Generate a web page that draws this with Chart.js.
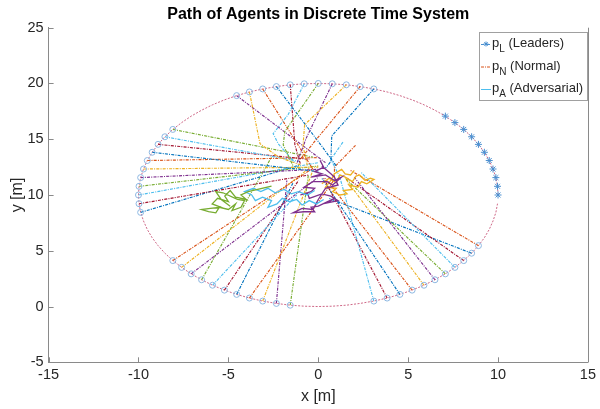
<!DOCTYPE html>
<html>
<head>
<meta charset="utf-8">
<script src="https://cdn.jsdelivr.net/npm/chart.js@4/dist/chart.umd.min.js"></script>
<style>
  html, body { margin: 0; padding: 0; background: #fff; }
</style>
</head>
<body>
<canvas id="plot" width="600" height="409"></canvas>
<script>
// leader path around the ring (points every 4.5 deg)
const ringX = [10.00, 9.97, 9.88, 9.72, 9.51, 9.24, 8.91, 8.53, 8.09, 7.60, 7.07, 6.49, 5.88, 5.22, 4.54, 3.83,
  3.09, 2.33, 1.56, 0.78, 0, -0.78, -1.56, -2.33, -3.09, -3.83, -4.54, -5.22, -5.88, -6.49, -7.07, -7.60,
  -8.09, -8.53, -8.91, -9.24, -9.51, -9.72, -9.88, -9.97, -10, -9.97, -9.88, -9.72, -9.51, -9.24, -8.91, -8.53,
  -8.09, -7.60, -7.07, -6.49, -5.88, -5.22, -4.54, -3.83, -3.09, -2.33, -1.56, -0.78, 0, 0.78, 1.56, 2.33,
  3.09, 3.83, 4.54, 5.22, 5.88, 6.49, 7.07, 7.60, 8.09, 8.53, 8.91, 9.24, 9.51, 9.72, 9.88, 9.97];
const ringY = [10.00, 10.78, 11.56, 12.33, 13.09, 13.83, 14.54, 15.22, 15.88, 16.49, 17.07, 17.60, 18.09, 18.53, 18.91, 19.24,
  19.51, 19.72, 19.88, 19.97, 20, 19.97, 19.88, 19.72, 19.51, 19.24, 18.91, 18.53, 18.09, 17.60, 17.07, 16.49,
  15.88, 15.22, 14.54, 13.83, 13.09, 12.33, 11.56, 10.78, 10, 9.22, 8.44, 7.67, 6.91, 6.17, 5.46, 4.78,
  4.12, 3.51, 2.93, 2.40, 1.91, 1.47, 1.09, 0.76, 0.49, 0.28, 0.12, 0.03, 0, 0.03, 0.12, 0.28,
  0.49, 0.76, 1.09, 1.47, 1.91, 2.40, 2.93, 3.51, 4.12, 4.78, 5.46, 6.17, 6.91, 7.67, 8.44, 9.22];

// leaders' start positions
const leaderX = [10.00, 9.97, 9.88, 9.72, 9.51, 9.24, 8.91, 8.53, 8.09, 7.60, 7.07];
const leaderY = [10.00, 10.78, 11.56, 12.33, 13.09, 13.83, 14.54, 15.22, 15.88, 16.49, 17.07];

// normal agents, grouped by arc; first point is the start marker
const topArc = [
  [[3.09, 19.51], [0.75, 15.3], [0.7, 13.0], [0.4, 12.4]],
  [[2.33, 19.72], [-0.2, 14.8], [-1.0, 13.2]],
  [[1.56, 19.88], [-0.76, 16.3], [-0.85, 14.4], [-0.6, 12.6]],
  [[0.78, 19.97], [-0.67, 15.1], [-1.2, 12.8]],
  [[0, 20], [-1.86, 15.7], [-1.95, 14.5], [-1.4, 12.6]],
  [[-0.78, 19.97], [-1.68, 17.2], [-2.51, 15.5], [-2.23, 14.6], [-1.3, 12.9]],
  [[-1.56, 19.88], [-1.3, 14.5], [-1.0, 12.8]],
  [[-2.33, 19.72], [0.14, 14.5], [1.0, 12.6]],
  [[-3.09, 19.51], [-1.13, 14.5], [-0.3, 12.3]],
  [[-3.83, 19.24], [-3.24, 14.6], [-2.2, 13.4], [-1.0, 12.7]],
  [[-4.54, 18.91], [-1.13, 14.75], [0.4, 12.9]]
];
const leftArc = [
  [[-8.09, 15.88], [-0.3, 13.4]],
  [[-8.53, 15.22], [-1.0, 13.0]],
  [[-8.91, 14.54], [-0.5, 13.2]],
  [[-9.24, 13.83], [0, 12.1]],
  [[-9.51, 13.09], [0, 13.35]],
  [[-9.72, 12.33], [0, 12.5]],
  [[-9.88, 11.56], [0, 12.3]],
  [[-9.97, 10.78], [0, 12.6]],
  [[-10, 10], [0, 12.9]],
  [[-9.97, 9.22], [-0.5, 11.8]],
  [[-9.88, 8.44], [-1.0, 12.7]]
];
const lowLeftArc = [
  [[-8.09, 4.12], [-0.3, 12.4]],
  [[-7.60, 3.51], [-0.5, 12.4]],
  [[-7.07, 2.93], [0, 11.6]],
  [[-6.49, 2.40], [-2.6, 13.4]],
  [[-5.88, 1.91], [-1.2, 10.0]],
  [[-5.22, 1.47], [-1.1, 11.3]],
  [[-4.54, 1.09], [-1.4, 11.1]],
  [[-3.83, 0.76], [0.9, 11.4], [0.9, 12.5], [2.1, 14.5]],
  [[-3.09, 0.49], [-0.3, 12.2]],
  [[-2.33, 0.28], [-1.75, 11.3]],
  [[-1.56, 0.12], [-0.55, 11.8]]
];
const lowRightArc = [
  [[3.09, 0.49], [1.2, 11.6], [0.7, 13.2], [1.4, 14.8]],
  [[3.83, 0.76], [0.3, 11.5]],
  [[4.54, 1.09], [0.2, 11.5]],
  [[5.22, 1.47], [0.4, 11.5]],
  [[5.88, 1.91], [1.5, 11.5]],
  [[6.49, 2.40], [2.0, 11.6]],
  [[7.07, 2.93], [1.5, 11.5]],
  [[7.60, 3.51], [2.4, 12.0]],
  [[8.09, 4.12], [1.6, 11.5]],
  [[8.53, 4.78], [0.6, 9.7]],
  [[8.91, 5.46], [1.8, 12.2]]
];

// wandering agents near the centre
const greenWalk = [[-2.6, 10.8], [-3.9, 10.3], [-4.3, 10.0], [-4.0, 9.6], [-4.6, 9.8], [-4.9, 10.4], [-5.2, 9.9], [-5.0, 9.4],
  [-5.6, 9.7], [-5.9, 9.2], [-5.4, 8.9], [-6.0, 8.8], [-6.5, 8.7], [-6.1, 8.5], [-5.7, 8.4], [-5.5, 8.9], [-5.0, 8.7],
  [-4.6, 9.2], [-4.8, 8.6], [-4.3, 8.9], [-4.1, 9.5], [-4.5, 9.6], [-5.3, 10.2], [-5.7, 10.3], [-5.4, 9.6], [-4.9, 9.0]];
const cyanWalk = [[0.3, 9.6], [-0.1, 9.2], [-0.5, 9.5], [-0.9, 9.1], [-1.2, 9.6], [-1.6, 9.4], [-2.0, 9.7], [-2.3, 9.2],
  [-2.8, 8.9], [-2.6, 9.5], [-3.1, 9.8], [-3.5, 9.5], [-3.7, 10.0], [-4.1, 10.3], [-3.6, 10.6], [-3.2, 10.3], [-2.8, 10.6],
  [-2.4, 10.2], [-1.9, 10.5], [-1.5, 10.1], [-1.1, 10.3], [-0.6, 10.0], [-0.2, 10.4]];
const purpleWalk = [[0.1, 13.1], [0.3, 12.5], [-0.2, 12.1], [0.2, 11.9], [-0.4, 11.6], [0.4, 11.8], [0.9, 11.3], [1.3, 11.6],
  [0.8, 10.9], [0.5, 11.2], [-0.3, 11.2], [-0.8, 10.7], [-0.2, 10.6], [-0.4, 10.3], [-1.0, 10.0], [-0.6, 10.2], [-0.5, 9.7],
  [0.2, 10.1], [0.7, 9.9], [1.1, 9.5], [0.5, 9.3], [0.9, 9.7], [0.0, 9.0], [-0.4, 8.9], [-0.2, 8.5], [-0.8, 8.5], [-1.4, 8.4],
  [-0.9, 8.8], [-0.3, 8.7], [0.0, 9.6], [0.4, 10.6], [1.1, 10.9], [0.9, 11.6], [0.7, 11.9], [0.2, 12.6]];
const yellowWalk = [[0.2, 11.0], [0.6, 11.5], [1.0, 11.1], [1.2, 11.8], [1.5, 11.6], [1.9, 11.2], [2.1, 11.7], [2.3, 11.8],
  [2.6, 11.3], [2.9, 11.5], [3.1, 11.4], [2.7, 11.0], [2.4, 11.2], [2.2, 10.7], [1.7, 10.9], [1.9, 10.5], [1.4, 10.4],
  [1.6, 10.1], [1.2, 10.0], [0.8, 10.3], [1.0, 10.6], [0.4, 10.7], [0.7, 11.3], [0.9, 11.9], [1.3, 12.3], [1.5, 11.9],
  [1.8, 11.8], [2.0, 12.2]];

const xTicks = [-15, -10, -5, 0, 5, 10, 15];
const yTicks = [-5, 0, 5, 10, 15, 20, 25];

const palette = ['#0072BD', '#D95319', '#EDB120', '#7E2F8E', '#77AC30', '#4DBEEE', '#A2142F'];
const axisColor = '#8a8a8a';
const textColor = '#262626';
const fontFam = '"Liberation Sans", Arial, Helvetica, sans-serif';

const pts = arr => arr.map(p => ({ x: p[0], y: p[1] }));

const normals = [...topArc, ...leftArc, ...lowLeftArc, ...lowRightArc];

const datasets = [];

// markers on top
datasets.push({
  data: leaderX.map((x, i) => ({ x, y: leaderY[i] })),
  showLine: false, pointStyle: 'star', pointRadius: 3.5,
  borderColor: '#4a8fd0', borderWidth: 1, backgroundColor: 'transparent'
});
datasets.push({
  data: normals.map(p => ({ x: p[0][0], y: p[0][1] })),
  showLine: false, pointStyle: 'circle', pointRadius: 3,
  borderColor: '#8db8e2', borderWidth: 1, backgroundColor: 'transparent'
});

// wandering paths (solid)
[[greenWalk, palette[4]], [cyanWalk, palette[5]], [purpleWalk, palette[3]], [yellowWalk, palette[2]]].forEach(([w, c]) => {
  datasets.push({ data: pts(w), showLine: true, borderColor: c, borderWidth: 1.3, pointRadius: 0, tension: 0 });
});

// normal agents (dash-dot)
normals.forEach((p, i) => {
  datasets.push({
    data: pts(p), showLine: true, borderColor: palette[i % 7], borderWidth: 1.15,
    borderDash: [3, 1.2, 1, 1.2], pointRadius: 0, tension: 0
  });
});

// ring
datasets.push({
  data: ringX.map((x, i) => ({ x, y: ringY[i] })),
  showLine: true, borderColor: 'rgba(201,88,122,0.9)', borderWidth: 1,
  borderDash: [2, 1.5], pointRadius: 0, tension: 0
});

const decor = {
  id: 'decor',
  afterDraw(chart) {
    const { ctx, chartArea: a, scales: { x, y } } = chart;
    ctx.save();
    // inward ticks + right border
    ctx.strokeStyle = axisColor;
    ctx.lineWidth = 1;
    ctx.setLineDash([]);
    ctx.beginPath();
    xTicks.forEach(v => {
      const px = Math.round(x.getPixelForValue(v)) + 0.5;
      ctx.moveTo(px, a.bottom); ctx.lineTo(px, a.bottom - 5);
    });
    yTicks.forEach(v => {
      const py = Math.round(y.getPixelForValue(v)) + 0.5;
      ctx.moveTo(a.left, py); ctx.lineTo(a.left + 5, py);
    });
    ctx.moveTo(Math.round(a.right) + 0.5, a.top);
    ctx.lineTo(Math.round(a.right) + 0.5, a.bottom);
    ctx.stroke();

    // title
    ctx.fillStyle = '#000';
    ctx.font = 'bold 16px ' + fontFam;
    ctx.textAlign = 'center';
    ctx.textBaseline = 'middle';
    ctx.fillText('Path of Agents in Discrete Time System', (a.left + a.right) / 2, 15);

    // legend
    const bx = 479.5, by = 32.5, bw = 108, bh = 68;
    ctx.fillStyle = '#fff';
    ctx.fillRect(bx, by, bw, bh);
    ctx.strokeStyle = '#a0a0a0';
    ctx.strokeRect(bx, by, bw, bh);
    const rows = [
      { sub: 'L', label: ' (Leaders)', color: '#4a8fd0', dash: [3, 1, 1, 1], star: true },
      { sub: 'N', label: ' (Normal)', color: palette[1], dash: [3, 1, 1, 1], star: false },
      { sub: 'A', label: ' (Adversarial)', color: palette[5], dash: [], star: false }
    ];
    rows.forEach((r, i) => {
      const cy = 44 + i * 22.5;
      ctx.strokeStyle = r.color;
      ctx.setLineDash(r.dash);
      ctx.beginPath();
      ctx.moveTo(481, cy + 0.5); ctx.lineTo(491, cy + 0.5);
      ctx.stroke();
      ctx.setLineDash([]);
      if (r.star) {
        ctx.beginPath();
        ctx.moveTo(486, cy - 2.5); ctx.lineTo(486, cy + 2.5);
        ctx.moveTo(483.5, cy); ctx.lineTo(488.5, cy);
        ctx.moveTo(484.3, cy - 1.7); ctx.lineTo(487.7, cy + 1.7);
        ctx.moveTo(484.3, cy + 1.7); ctx.lineTo(487.7, cy - 1.7);
        ctx.stroke();
      }
      ctx.fillStyle = textColor;
      ctx.textAlign = 'left';
      ctx.textBaseline = 'alphabetic';
      ctx.font = '13px ' + fontFam;
      let tx = 492;
      ctx.fillText('p', tx, cy + 3);
      tx += ctx.measureText('p').width;
      ctx.font = '10px ' + fontFam;
      ctx.fillText(r.sub, tx, cy + 8);
      tx += ctx.measureText(r.sub).width;
      ctx.font = '13px ' + fontFam;
      ctx.fillText(r.label, tx, cy + 3);
    });
    ctx.restore();
  }
};

new Chart(document.getElementById('plot'), {
  type: 'scatter',
  data: { datasets },
  options: {
    responsive: false,
    animation: false,
    devicePixelRatio: 1,
    layout: { padding: { top: 27.7, right: 7.6, left: 0, bottom: 0 } },
    plugins: { legend: { display: false }, tooltip: { enabled: false }, title: { display: false } },
    scales: {
      x: {
        type: 'linear', min: -15, max: 15,
        afterFit: s => { s.height = 46.7; },
        afterBuildTicks: s => { s.ticks = xTicks.map(v => ({ value: v })); },
        ticks: { color: textColor, font: { family: fontFam, size: 14.5 }, padding: 4, maxRotation: 0, autoSkip: false },
        grid: { drawOnChartArea: false, drawTicks: false },
        border: { display: true, color: axisColor },
        title: { display: true, text: 'x [m]', color: textColor, font: { family: fontFam, size: 16 }, padding: { top: 0, bottom: 2.4 } }
      },
      y: {
        type: 'linear', min: -5, max: 25,
        afterFit: s => { s.width = 48.6; },
        afterBuildTicks: s => { s.ticks = yTicks.map(v => ({ value: v })); },
        ticks: { color: textColor, font: { family: fontFam, size: 14.5 }, padding: 5, autoSkip: false },
        grid: { drawOnChartArea: false, drawTicks: false },
        border: { display: true, color: axisColor },
        title: { display: true, text: 'y [m]', color: textColor, font: { family: fontFam, size: 16 }, padding: { top: 8.4, bottom: 0 } }
      }
    }
  },
  plugins: [decor]
});
</script>
</body>
</html>
